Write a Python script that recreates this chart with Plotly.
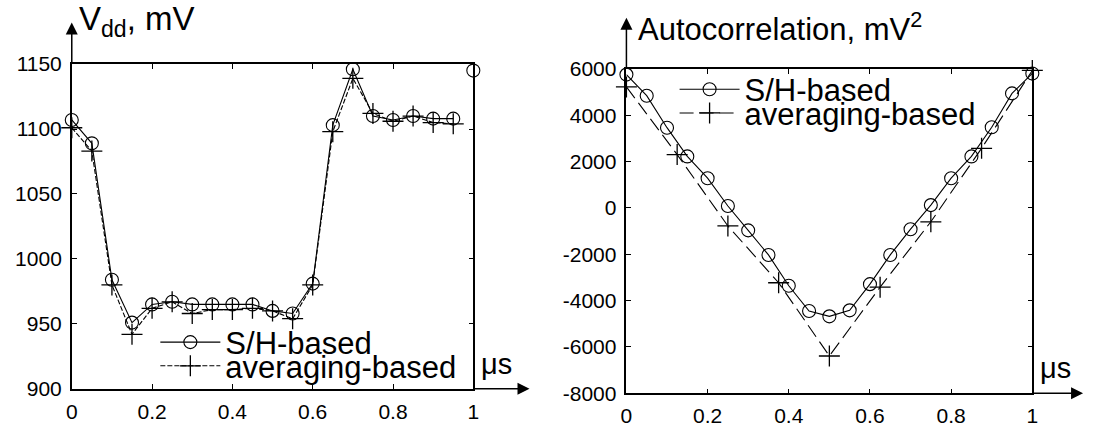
import plotly.graph_objects as go

# ---------------- data ----------------
t_left = [0.0, 0.05, 0.1, 0.15, 0.2, 0.25, 0.3, 0.35, 0.4, 0.45,
          0.5, 0.55, 0.6, 0.65, 0.7, 0.75, 0.8, 0.85, 0.9, 0.95]
sh_left = [1107, 1089, 984, 951, 965, 967, 965, 965, 965, 965,
           960, 958, 981, 1103, 1146, 1110, 1107, 1110, 1108, 1108]
avg_left = [1101, 1083, 980, 942, 962, 967, 958, 961, 961, 962,
            960, 954, 980, 1098, 1139, 1112, 1106, 1110, 1105, 1104]
t_left_end = [1.0]
sh_left_end = [1145]

t_right = [0.0, 0.05, 0.1, 0.15, 0.2, 0.25, 0.3, 0.35, 0.4, 0.45, 0.5,
           0.55, 0.6, 0.65, 0.7, 0.75, 0.8, 0.85, 0.9, 0.95, 1.0]
sh_right = [5750, 4840, 3460, 2220, 1280, 80, -970, -2030, -3360, -4450, -4680,
            -4420, -3290, -2030, -920, 120, 1280, 2220, 3480, 4940, 5800]
t_right_avg = [0.0, 0.125, 0.25, 0.375, 0.5, 0.625, 0.75, 0.875, 1.0]
avg_right = [5220, 2300, -780, -3230, -6390, -3420, -600, 2570, 5930]

left_yticks = [900, 950, 1000, 1050, 1100, 1150]
right_yticks = [-8000, -6000, -4000, -2000, 0, 2000, 4000, 6000]
right_ytick_labels = ["-8000", "-6000", "-4000", "-2000", "0", "2000", "4000", "6000"]
xticks = [0, 0.2, 0.4, 0.6, 0.8, 1]
xtick_labels = ["0", "0.2", "0.4", "0.6", "0.8", "1"]
series_names = ["S/H-based", "averaging-based"]

# ---------------- figure ----------------
W, H = 1094, 433
FONT = "Liberation Sans, Arial, sans-serif"
fig = go.Figure()

circ = dict(symbol="circle-open", size=13, color="black", line=dict(width=1.1, color="black"))
plus = dict(symbol="cross-thin-open", size=15, color="black", line=dict(width=1.3, color="black"))

fig.add_trace(go.Scatter(x=t_left, y=sh_left, mode="lines+markers", name=series_names[0],
                         line=dict(color="black", width=1.1), marker=circ,
                         xaxis="x", yaxis="y", cliponaxis=False, legend="legend"))
fig.add_trace(go.Scatter(x=t_left_end, y=sh_left_end, mode="markers", showlegend=False,
                         marker=circ, xaxis="x", yaxis="y", cliponaxis=False))
fig.add_trace(go.Scatter(x=t_left, y=avg_left, mode="lines+markers", name=series_names[1],
                         line=dict(color="black", width=1.1, dash="5px,2px"), marker=plus,
                         xaxis="x", yaxis="y", cliponaxis=False, legend="legend2"))

fig.add_trace(go.Scatter(x=t_right, y=sh_right, mode="lines+markers", name=series_names[0],
                         line=dict(color="black", width=1.1), marker=circ,
                         xaxis="x2", yaxis="y2", cliponaxis=False, legend="legend3"))
fig.add_trace(go.Scatter(x=t_right_avg, y=avg_right, mode="lines+markers", name=series_names[1],
                         line=dict(color="black", width=1.1, dash="14px,6px"), marker=plus,
                         xaxis="x2", yaxis="y2", cliponaxis=False, legend="legend4"))

axis_common = dict(showline=True, linecolor="black", linewidth=1.5, mirror="ticks",
                   ticks="inside", ticklen=5, tickcolor="black", tickwidth=1.2,
                   showgrid=False, zeroline=False,
                   tickfont=dict(family=FONT, size=21, color="black"))

def px2x(p):
    return p / W

def px2y(p):
    return 1 - p / H

fig.update_layout(
    width=W, height=H, margin=dict(l=0, r=0, t=0, b=0),
    paper_bgcolor="white", plot_bgcolor="white",
    font=dict(family=FONT, color="black"),
    xaxis=dict(domain=[px2x(66.5), px2x(472.5)], range=[0, 1], anchor="y",
               tickvals=xticks, ticktext=xtick_labels, ticklabelstandoff=3, **axis_common),
    yaxis=dict(domain=[px2y(398), px2y(55)], range=[900, 1150], anchor="x",
               tickvals=left_yticks, ticklabelstandoff=4, **axis_common),
    xaxis2=dict(domain=[px2x(627.3), px2x(1037.7)], range=[0, 1], anchor="y2",
                tickvals=xticks, ticktext=xtick_labels, ticklabelstandoff=3, **axis_common),
    yaxis2=dict(domain=[px2y(402.7), px2y(60)], range=[-8000, 6000], anchor="x2",
                tickvals=right_yticks, ticktext=right_ytick_labels, ticklabelstandoff=4,
                **axis_common),
)

leg_common = dict(xanchor="left", yanchor="middle", bgcolor="rgba(0,0,0,0)",
                  font=dict(family=FONT, size=31, color="black"), itemwidth=60,
                  borderwidth=0)
fig.update_layout(
    legend=dict(x=px2x(151), y=px2y(349), **leg_common),
    legend2=dict(x=px2x(151), y=px2y(374), **leg_common),
    legend3=dict(x=px2x(676), y=px2y(82), **leg_common),
    legend4=dict(x=px2x(676), y=px2y(107), **leg_common),
)

# axis titles
fig.add_annotation(text="V<sub>dd</sub>, mV", xref="paper", yref="paper",
                   x=px2x(72), y=px2y(-15), xanchor="left", yanchor="top", showarrow=False,
                   font=dict(family=FONT, size=33, color="black"))
fig.add_annotation(text="Autocorrelation, mV<sup>2</sup>", xref="paper", yref="paper",
                   x=px2x(637), y=px2y(-7), xanchor="left", yanchor="top", showarrow=False,
                   font=dict(family=FONT, size=31, color="black"))
fig.add_annotation(text="\u03bcs", xref="paper", yref="paper",
                   x=px2x(478), y=px2y(372), xanchor="left", yanchor="middle", showarrow=False,
                   font=dict(family=FONT, size=29, color="black"))
fig.add_annotation(text="\u03bcs", xref="paper", yref="paper",
                   x=px2x(1043), y=px2y(376), xanchor="left", yanchor="middle", showarrow=False,
                   font=dict(family=FONT, size=29, color="black"))

# axis arrows (extending the axes beyond their ranges)
arrow = dict(showarrow=True, text="", arrowhead=2, arrowsize=1.6, arrowwidth=1.5,
             arrowcolor="black")
fig.add_annotation(x=1.14, y=900, ax=1.0, ay=900, xref="x", yref="y", axref="x", ayref="y", **arrow)
fig.add_annotation(x=0, y=1182, ax=0, ay=1150, xref="x", yref="y", axref="x", ayref="y", **arrow)
fig.add_annotation(x=1.125, y=-8000, ax=1.0, ay=-8000, xref="x2", yref="y2", axref="x2", ayref="y2", **arrow)
fig.add_annotation(x=0, y=8200, ax=0, ay=6000, xref="x2", yref="y2", axref="x2", ayref="y2", **arrow)

fig.write_html("out.html")
